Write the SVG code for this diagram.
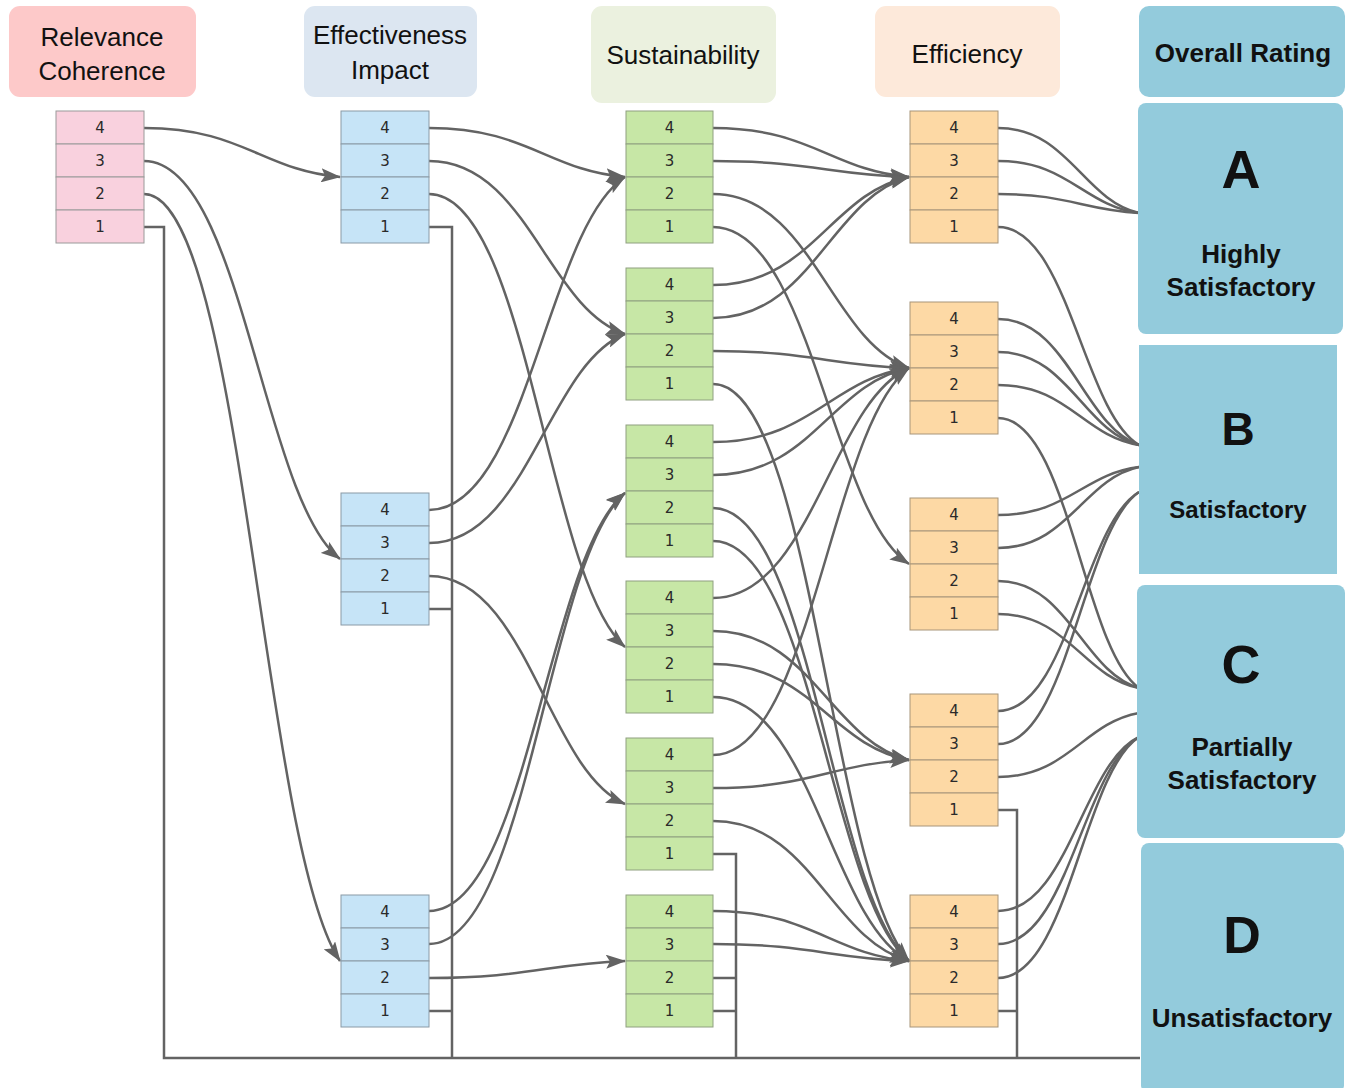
<svg xmlns="http://www.w3.org/2000/svg" width="1346" height="1088" viewBox="0 0 1346 1088">
<style>
.hdr{font-family:"Liberation Sans",Arial,sans-serif;font-size:26px;fill:#111;text-anchor:middle}
.rt{font-family:"Liberation Sans",Arial,sans-serif;font-weight:bold;fill:#111;text-anchor:middle}
.num{font-family:"DejaVu Sans",sans-serif;font-size:15px;fill:#2a2a2a;text-anchor:middle}
.c{fill:none;stroke:#636363;stroke-width:2.5}
.a{marker-end:url(#ah)}
.pink{fill:#f9d1de;stroke:#9a9a9a;stroke-width:1}
.blue{fill:#c6e4f7;stroke:#8a9aa6;stroke-width:1}
.green{fill:#c7e7a6;stroke:#8fa080;stroke-width:1}
.orange{fill:#fdd9a5;stroke:#a8957a;stroke-width:1}
.panel{fill:#93cbdc}
</style>
<defs>
<marker id="ah" markerUnits="userSpaceOnUse" markerWidth="20" markerHeight="14" refX="19" refY="7" orient="auto">
<path d="M0,0 L20,7 L0,14 L4,7 z" fill="#636363"/>
</marker>
</defs>
<rect width="1346" height="1088" fill="#fff"/>

<g id="headers">
<g id="h-rel"><rect x="9" y="6" width="187" height="91" rx="11" fill="#fdc9c9"/><text class="hdr" x="102" y="46">Relevance</text><text class="hdr" x="102" y="80">Coherence</text></g>
<g id="h-eff"><rect x="304" y="6" width="173" height="91" rx="11" fill="#dce6f1"/><text class="hdr" x="390" y="44">Effectiveness</text><text class="hdr" x="390" y="79">Impact</text></g>
<g id="h-sus"><rect x="591" y="6" width="185" height="97" rx="11" fill="#ebf1df"/><text class="hdr" x="683" y="64">Sustainability</text></g>
<g id="h-effc"><rect x="875" y="6" width="185" height="91" rx="11" fill="#fde9da"/><text class="hdr" x="967" y="63">Efficiency</text></g>
</g>

<g id="connectors">
<path class="c" d="M144,227 H164 V1058 H1140"/>
<path class="c" d="M429,227 H452 V1058"/>
<path class="c" d="M429,609 H452"/>
<path class="c" d="M429,1011 H452"/>
<path class="c" d="M713,854 H736 V1058"/>
<path class="c" d="M713,978 H736"/>
<path class="c" d="M713,1011 H736"/>
<path class="c" d="M998,810 H1017 V1058"/>
<path class="c" d="M998,1011 H1017"/>

<path class="c a" d="M144,128 C242,128 262,170 340,177"/>
<path class="c a" d="M144,161 C242,161 262,499 340,559"/>
<path class="c a" d="M144,194 C242,194 262,846 340,961"/>

<path class="c a" d="M429,128 C527,128 547,170 625,177"/>
<path class="c a" d="M429,161 C527,161 547,308 625,334"/>
<path class="c a" d="M429,194 C527,194 547,579 625,647"/>
<path class="c a" d="M429,510 C527,510 547,227 625,177"/>
<path class="c a" d="M429,543 C527,543 547,365 625,334"/>
<path class="c a" d="M429,576 C527,576 547,770 625,804"/>
<path class="c a" d="M429,911 C527,911 547,556 625,493"/>
<path class="c a" d="M429,944 C527,944 547,561 625,493"/>
<path class="c a" d="M429,978 C527,978 547,964 625,961"/>

<path class="c a" d="M713,128 C811,128 831,170 909,177"/>
<path class="c a" d="M713,161 C811,161 831,175 909,177"/>
<path class="c a" d="M713,194 C811,194 831,342 909,368"/>
<path class="c a" d="M713,227 C811,227 831,513 909,564"/>
<path class="c a" d="M713,285 C811,285 831,193 909,177"/>
<path class="c a" d="M713,318 C811,318 831,198 909,177"/>
<path class="c a" d="M713,351 C811,351 831,366 909,368"/>
<path class="c a" d="M713,384 C811,384 831,874 909,961"/>
<path class="c a" d="M713,442 C811,442 831,379 909,368"/>
<path class="c a" d="M713,475 C811,475 831,384 909,368"/>
<path class="c a" d="M713,508 C811,508 831,893 909,961"/>
<path class="c a" d="M713,541 C811,541 831,898 909,961"/>
<path class="c a" d="M713,598 C811,598 831,403 909,368"/>
<path class="c a" d="M713,631 C811,631 831,741 909,760"/>
<path class="c a" d="M713,664 C811,664 831,746 909,760"/>
<path class="c a" d="M713,697 C811,697 831,921 909,961"/>
<path class="c a" d="M713,755 C811,755 831,426 909,368"/>
<path class="c a" d="M713,788 C811,788 831,764 909,760"/>
<path class="c a" d="M713,821 C811,821 831,940 909,961"/>
<path class="c a" d="M713,911 C811,911 831,954 909,961"/>
<path class="c a" d="M713,944 C811,944 831,959 909,961"/>

<path class="c" d="M998,128 C1068,128 1083,200 1139,213"/>
<path class="c" d="M998,161 C1068,161 1083,205 1139,213"/>
<path class="c" d="M998,194 C1068,194 1083,210 1139,213"/>
<path class="c" d="M998,227 C1068,227 1083,412 1139,445"/>
<path class="c" d="M998,319 C1068,319 1083,426 1139,445"/>
<path class="c" d="M998,352 C1068,352 1083,431 1139,445"/>
<path class="c" d="M998,385 C1068,385 1083,436 1139,445"/>
<path class="c" d="M998,515 C1068,515 1083,474 1139,467"/>
<path class="c" d="M998,548 C1068,548 1083,479 1139,467"/>
<path class="c" d="M998,711 C1068,711 1083,525 1139,492"/>
<path class="c" d="M998,744 C1068,744 1083,530 1139,492"/>
<path class="c" d="M998,418 C1068,418 1083,648 1139,688"/>
<path class="c" d="M998,581 C1068,581 1083,672 1139,688"/>
<path class="c" d="M998,614 C1068,614 1083,677 1139,688"/>
<path class="c" d="M998,777 C1068,777 1083,723 1139,713"/>
<path class="c" d="M998,911 C1068,911 1083,763 1139,737"/>
<path class="c" d="M998,944 C1068,944 1083,768 1139,737"/>
<path class="c" d="M998,978 C1068,978 1083,773 1139,737"/>
</g>

<g id="rel1" transform="translate(56,111)">
<rect class="pink" x="0" y="0" width="88" height="33"/><rect class="pink" x="0" y="33" width="88" height="33"/><rect class="pink" x="0" y="66" width="88" height="33"/><rect class="pink" x="0" y="99" width="88" height="33"/>
<text class="num" x="44" y="22">4</text><text class="num" x="44" y="55">3</text><text class="num" x="44" y="88">2</text><text class="num" x="44" y="121">1</text>
</g>

<g id="eff1" transform="translate(341,111)">
<rect class="blue" x="0" y="0" width="88" height="33"/><rect class="blue" x="0" y="33" width="88" height="33"/><rect class="blue" x="0" y="66" width="88" height="33"/><rect class="blue" x="0" y="99" width="88" height="33"/>
<text class="num" x="44" y="22">4</text><text class="num" x="44" y="55">3</text><text class="num" x="44" y="88">2</text><text class="num" x="44" y="121">1</text>
</g>
<g id="eff2" transform="translate(341,493)">
<rect class="blue" x="0" y="0" width="88" height="33"/><rect class="blue" x="0" y="33" width="88" height="33"/><rect class="blue" x="0" y="66" width="88" height="33"/><rect class="blue" x="0" y="99" width="88" height="33"/>
<text class="num" x="44" y="22">4</text><text class="num" x="44" y="55">3</text><text class="num" x="44" y="88">2</text><text class="num" x="44" y="121">1</text>
</g>
<g id="eff3" transform="translate(341,895)">
<rect class="blue" x="0" y="0" width="88" height="33"/><rect class="blue" x="0" y="33" width="88" height="33"/><rect class="blue" x="0" y="66" width="88" height="33"/><rect class="blue" x="0" y="99" width="88" height="33"/>
<text class="num" x="44" y="22">4</text><text class="num" x="44" y="55">3</text><text class="num" x="44" y="88">2</text><text class="num" x="44" y="121">1</text>
</g>

<g id="sus1" transform="translate(626,111)">
<rect class="green" x="0" y="0" width="87" height="33"/><rect class="green" x="0" y="33" width="87" height="33"/><rect class="green" x="0" y="66" width="87" height="33"/><rect class="green" x="0" y="99" width="87" height="33"/>
<text class="num" x="43.5" y="22">4</text><text class="num" x="43.5" y="55">3</text><text class="num" x="43.5" y="88">2</text><text class="num" x="43.5" y="121">1</text>
</g>
<g id="sus2" transform="translate(626,268)">
<rect class="green" x="0" y="0" width="87" height="33"/><rect class="green" x="0" y="33" width="87" height="33"/><rect class="green" x="0" y="66" width="87" height="33"/><rect class="green" x="0" y="99" width="87" height="33"/>
<text class="num" x="43.5" y="22">4</text><text class="num" x="43.5" y="55">3</text><text class="num" x="43.5" y="88">2</text><text class="num" x="43.5" y="121">1</text>
</g>
<g id="sus3" transform="translate(626,425)">
<rect class="green" x="0" y="0" width="87" height="33"/><rect class="green" x="0" y="33" width="87" height="33"/><rect class="green" x="0" y="66" width="87" height="33"/><rect class="green" x="0" y="99" width="87" height="33"/>
<text class="num" x="43.5" y="22">4</text><text class="num" x="43.5" y="55">3</text><text class="num" x="43.5" y="88">2</text><text class="num" x="43.5" y="121">1</text>
</g>
<g id="sus4" transform="translate(626,581)">
<rect class="green" x="0" y="0" width="87" height="33"/><rect class="green" x="0" y="33" width="87" height="33"/><rect class="green" x="0" y="66" width="87" height="33"/><rect class="green" x="0" y="99" width="87" height="33"/>
<text class="num" x="43.5" y="22">4</text><text class="num" x="43.5" y="55">3</text><text class="num" x="43.5" y="88">2</text><text class="num" x="43.5" y="121">1</text>
</g>
<g id="sus5" transform="translate(626,738)">
<rect class="green" x="0" y="0" width="87" height="33"/><rect class="green" x="0" y="33" width="87" height="33"/><rect class="green" x="0" y="66" width="87" height="33"/><rect class="green" x="0" y="99" width="87" height="33"/>
<text class="num" x="43.5" y="22">4</text><text class="num" x="43.5" y="55">3</text><text class="num" x="43.5" y="88">2</text><text class="num" x="43.5" y="121">1</text>
</g>
<g id="sus6" transform="translate(626,895)">
<rect class="green" x="0" y="0" width="87" height="33"/><rect class="green" x="0" y="33" width="87" height="33"/><rect class="green" x="0" y="66" width="87" height="33"/><rect class="green" x="0" y="99" width="87" height="33"/>
<text class="num" x="43.5" y="22">4</text><text class="num" x="43.5" y="55">3</text><text class="num" x="43.5" y="88">2</text><text class="num" x="43.5" y="121">1</text>
</g>

<g id="effc1" transform="translate(910,111)">
<rect class="orange" x="0" y="0" width="88" height="33"/><rect class="orange" x="0" y="33" width="88" height="33"/><rect class="orange" x="0" y="66" width="88" height="33"/><rect class="orange" x="0" y="99" width="88" height="33"/>
<text class="num" x="44" y="22">4</text><text class="num" x="44" y="55">3</text><text class="num" x="44" y="88">2</text><text class="num" x="44" y="121">1</text>
</g>
<g id="effc2" transform="translate(910,302)">
<rect class="orange" x="0" y="0" width="88" height="33"/><rect class="orange" x="0" y="33" width="88" height="33"/><rect class="orange" x="0" y="66" width="88" height="33"/><rect class="orange" x="0" y="99" width="88" height="33"/>
<text class="num" x="44" y="22">4</text><text class="num" x="44" y="55">3</text><text class="num" x="44" y="88">2</text><text class="num" x="44" y="121">1</text>
</g>
<g id="effc3" transform="translate(910,498)">
<rect class="orange" x="0" y="0" width="88" height="33"/><rect class="orange" x="0" y="33" width="88" height="33"/><rect class="orange" x="0" y="66" width="88" height="33"/><rect class="orange" x="0" y="99" width="88" height="33"/>
<text class="num" x="44" y="22">4</text><text class="num" x="44" y="55">3</text><text class="num" x="44" y="88">2</text><text class="num" x="44" y="121">1</text>
</g>
<g id="effc4" transform="translate(910,694)">
<rect class="orange" x="0" y="0" width="88" height="33"/><rect class="orange" x="0" y="33" width="88" height="33"/><rect class="orange" x="0" y="66" width="88" height="33"/><rect class="orange" x="0" y="99" width="88" height="33"/>
<text class="num" x="44" y="22">4</text><text class="num" x="44" y="55">3</text><text class="num" x="44" y="88">2</text><text class="num" x="44" y="121">1</text>
</g>
<g id="effc5" transform="translate(910,895)">
<rect class="orange" x="0" y="0" width="88" height="33"/><rect class="orange" x="0" y="33" width="88" height="33"/><rect class="orange" x="0" y="66" width="88" height="33"/><rect class="orange" x="0" y="99" width="88" height="33"/>
<text class="num" x="44" y="22">4</text><text class="num" x="44" y="55">3</text><text class="num" x="44" y="88">2</text><text class="num" x="44" y="121">1</text>
</g>

<g id="overall"><rect class="panel" x="1139" y="6" width="206" height="91" rx="10"/><text class="rt" x="1243" y="62" font-size="26">Overall Rating</text></g>
<g id="rateA"><rect class="panel" x="1138" y="103" width="205" height="231" rx="8"/><text class="rt" x="1241" y="188" font-size="54">A</text><text class="rt" x="1241" y="263" font-size="26">Highly</text><text class="rt" x="1241" y="296" font-size="26">Satisfactory</text></g>
<g id="rateB"><rect class="panel" x="1139" y="345" width="198" height="229"/><text class="rt" x="1238" y="445" font-size="46">B</text><text class="rt" x="1238" y="518" font-size="24">Satisfactory</text></g>
<g id="rateC"><rect class="panel" x="1137" y="585" width="208" height="253" rx="8"/><text class="rt" x="1241" y="683" font-size="54">C</text><text class="rt" x="1242" y="756" font-size="26">Partially</text><text class="rt" x="1242" y="789" font-size="26">Satisfactory</text></g>
<g id="rateD"><rect class="panel" x="1141" y="843" width="203" height="250" rx="8"/><text class="rt" x="1242" y="953" font-size="52">D</text><text class="rt" x="1242" y="1027" font-size="26">Unsatisfactory</text></g>
</svg>
